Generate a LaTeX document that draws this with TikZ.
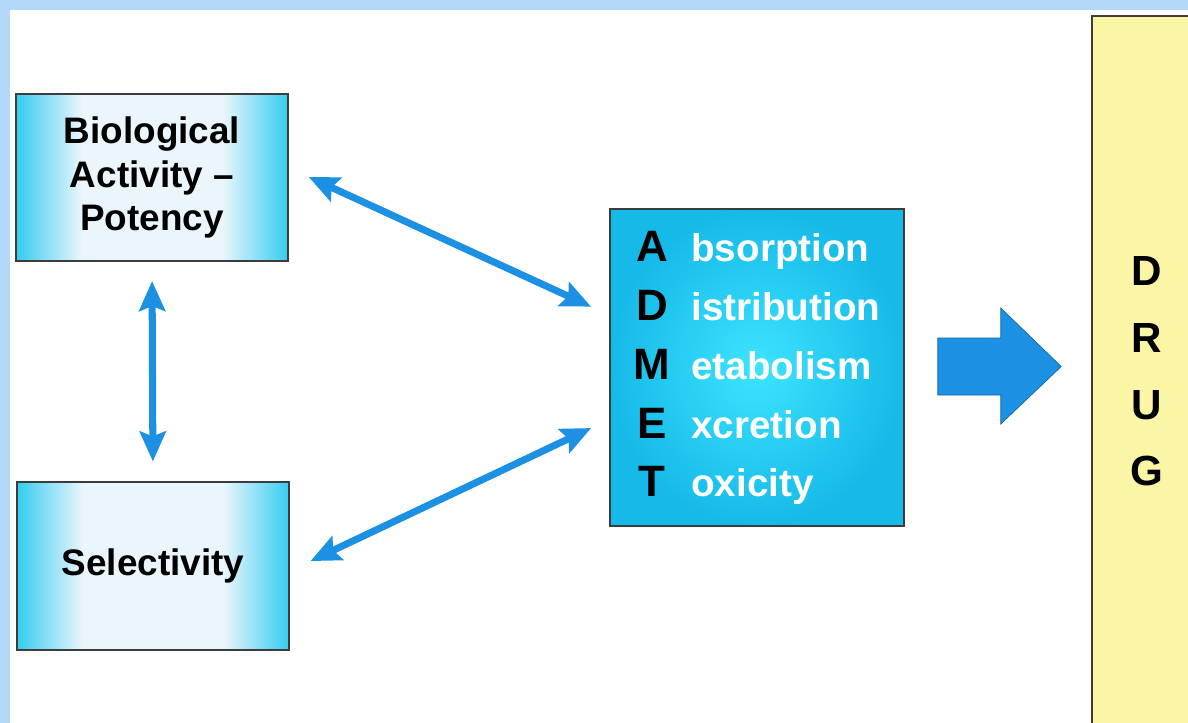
\documentclass[tikz,border=0pt]{standalone}
\usepackage{fontspec}
\setmainfont{Liberation Sans}
\usetikzlibrary{arrows.meta,calc}

\definecolor{framebg}{RGB}{180,216,250}
\definecolor{cyanedge}{RGB}{52,205,240}
\definecolor{cyanpale}{RGB}{234,245,252}
\definecolor{admetin}{RGB}{60,228,255}
\definecolor{admetout}{RGB}{22,186,232}
\definecolor{drugfill}{RGB}{250,246,166}
\definecolor{arrowblue}{RGB}{28,144,226}
\definecolor{edgegray}{RGB}{60,60,60}

% cyan at both sides, pale in the middle
\pgfdeclarehorizontalshading{sideshade}{100bp}{color(0bp)=(cyanedge); color(25bp)=(cyanedge); color(37bp)=(cyanpale); color(63bp)=(cyanpale); color(75bp)=(cyanedge); color(100bp)=(cyanedge)}

\newcommand\initialcap[1]{{\fontsize{25}{25}\selectfont\color{black}#1}}

\tikzset{
  sidebox/.style={draw=edgegray, line width=0.9pt, shading=sideshade,
    minimum width=5.44cm, minimum height=3.35cm, align=center,
    font=\fontsize{21}{25}\selectfont\bfseries},
  admetbox/.style={draw=edgegray, line width=0.9pt, inner color=admetin, outer color=admetout,
    minimum width=5.88cm, minimum height=6.34cm, inner sep=0pt,
    font=\fontsize{22}{33.5}\selectfont\bfseries, text=white},
  drugbox/.style={draw=edgegray, line width=0.9pt, fill=drugfill,
    minimum width=2.2cm, minimum height=14.22cm, align=center,
    font=\fontsize{24}{38}\selectfont\bfseries},
  dblarrow/.style={draw=arrowblue, line width=4pt,
    {Stealth[length=0.6cm,width=0.52cm,inset=0.1cm]}-{Stealth[length=0.6cm,width=0.52cm,inset=0.1cm]}},
  bigarrow/.style={fill=arrowblue, draw=arrowblue!70!black, line width=0.4pt}
}

\begin{document}
\begin{tikzpicture}[x=0.02cm,y=-0.02cm]
  \useasboundingbox (0,0) rectangle (1188,723);
  \clip (0,0) rectangle (1188,723);
  % light blue frame and white sheet
  \fill[framebg] (0,0) rectangle (1188,723);
  \fill[white] (10,10) rectangle (1188,723);

  \node[sidebox] (bio) at (152,177.5) {Biological\\Activity –\\Potency};
  \node[sidebox] (sel) at (153,566) {Selectivity};
  \node[admetbox] (admet) at (757,367.5) {%
    \begin{tabular}{@{}c@{\hspace{0.42cm}}l@{}}
      \initialcap{A} & bsorption\\
      \initialcap{D} & istribution\\
      \initialcap{M} & etabolism\\
      \initialcap{E} & xcretion\\
      \initialcap{T} & oxicity
    \end{tabular}};
  \node[drugbox] (drug) at (1147,371.5) {D\\R\\U\\G};

  % two-way links
  \draw[dblarrow, shorten <=0.38cm, shorten >=0.4cm] (bio.south) -- (sel.north);
  \draw[dblarrow, shorten <=0.44cm, shorten >=0.4cm]
    ($(bio.east)+(0,-9.7)$) -- ($(admet.west)+(0,-52.5)$);
  \draw[dblarrow, shorten <=0.46cm, shorten >=0.4cm]
    ($(sel.east)+(0,4.9)$) -- ($(admet.west)+(0,52)$);

  % block arrow towards the drug
  \coordinate (tip) at ($(drug.west |- admet.east)+(-30,-1)$);
  \draw[bigarrow]
    ($(admet.east)+(33,-29.5)$) -- ($(admet.east)+(96,-29.5)$)
    -- ($(admet.east)+(96,-59.5)$) -- (tip)
    -- ($(admet.east)+(96,56.5)$) -- ($(admet.east)+(96,27.5)$)
    -- ($(admet.east)+(33,27.5)$) -- cycle;
\end{tikzpicture}
\end{document}
